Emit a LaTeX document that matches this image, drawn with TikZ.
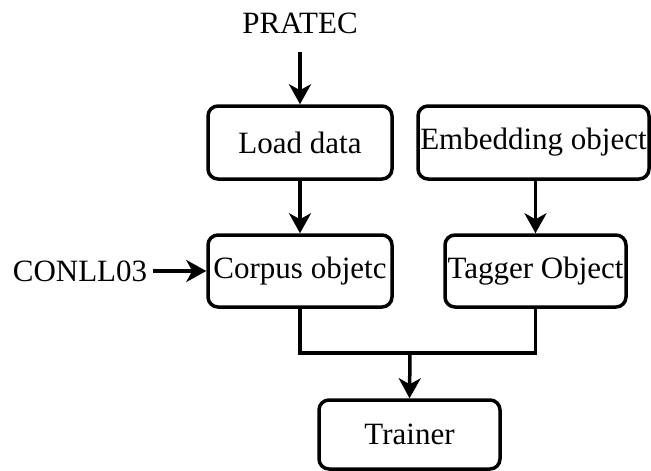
\documentclass[tikz,border=0pt]{standalone}
\usepackage{fontspec}
\setmainfont{Liberation Serif}
\usetikzlibrary{arrows.meta}
\begin{document}
\begin{tikzpicture}[x=1pt,y=-1pt,
  every node/.style={font=\fontsize{31}{37}\selectfont, inner sep=0pt},
  box/.style={draw, line width=3.5pt, rounded corners=10pt, minimum width=#1},
  flow/.style={line width=3.5pt, -{Stealth[length=20pt,width=22pt,inset=6pt]}},
  link/.style={line width=3.5pt}]
  \useasboundingbox (0,0) rectangle (651,471);

  % processing boxes
  \node[box=184pt, minimum height=73pt] (load)    at (300,142.5)   {Load data};
  \node[box=231pt, minimum height=73pt] (embed)   at (533.5,142.5) {Embedding object};
  \node[box=184pt, minimum height=72pt] (corpus)  at (300,271)     {Corpus objetc};
  \node[box=181pt, minimum height=72pt] (tagger)  at (535.5,271)   {Tagger Object};
  \node[box=181pt, minimum height=69pt] (trainer) at (409.5,434.5) {Trainer};

  % inputs
  \node (pratec) at (300,23) {PRATEC};
  \node (conll)  at (80,271) {CONLL03};
  \coordinate (pratecend) at (300,52);
  \coordinate (conllend)  at (153,271);

  % connectors
  \draw[flow] (pratecend) -- (load.north);
  \draw[flow] (conllend) -- (corpus.west);
  \draw[flow] (load.south) -- (corpus.north);
  \draw[flow] (tagger.north |- embed.south) -- (tagger.north);

  \coordinate (join) at (410,353);
  \draw[link] (corpus.south) |- (join);
  \draw[link] (tagger.south) |- (join);
  \draw[flow] (join) -- (trainer.north);
\end{tikzpicture}
\end{document}
